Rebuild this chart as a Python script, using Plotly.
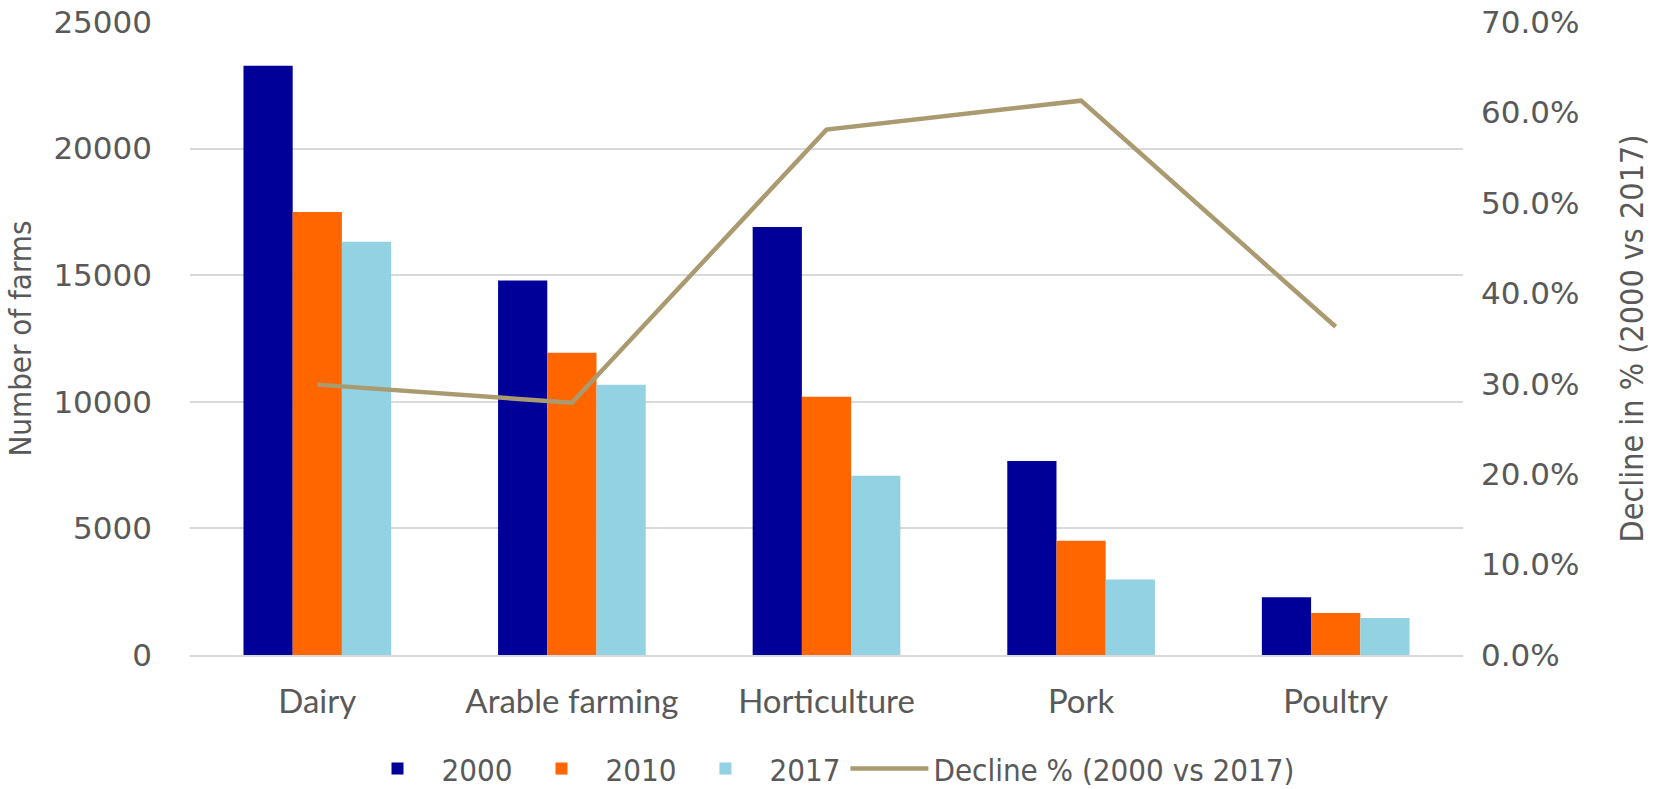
import plotly.graph_objects as go

categories = ["Dairy", "Arable farming", "Horticulture", "Pork", "Poultry"]
farms_2000 = [23270, 14790, 16900, 7660, 2280]
farms_2010 = [17500, 11940, 10200, 4510, 1660]
farms_2017 = [16320, 10670, 7080, 2980, 1460]
decline_pct = [0.299, 0.279, 0.581, 0.613, 0.363]

left_ticks = [0, 5000, 10000, 15000, 20000, 25000]
right_ticks = [0, 0.1, 0.2, 0.3, 0.4, 0.5, 0.6, 0.7]

NUM_FONT = "'DejaVu Sans', sans-serif"
CAT_FONT = "Lato, 'Open Sans', sans-serif"
COND_FONT = "'Liberation Sans Narrow', 'DejaVu Sans Condensed', Lato, sans-serif"
GREY = "#595959"

fig = go.Figure()
fig.add_trace(go.Bar(name="2000", x=categories, y=farms_2000, marker_color="#000099",
                     marker_line_width=0))
fig.add_trace(go.Bar(name="2010", x=categories, y=farms_2010, marker_color="#FF6600",
                     marker_line_width=0))
fig.add_trace(go.Bar(name="2017", x=categories, y=farms_2017, marker_color="#92D2E3",
                     marker_line_width=0))
fig.add_trace(go.Scatter(name="Decline % (2000 vs 2017)", x=categories, y=decline_pct,
                         mode="lines", line=dict(color="#A99B6F", width=4.5),
                         yaxis="y2"))

fig.update_layout(
    width=1657, height=789,
    paper_bgcolor="white", plot_bgcolor="white",
    margin=dict(l=190, r=194, t=22, b=134, autoexpand=False),
    barmode="group", bargap=0.42, bargroupgap=0,
    font=dict(family=CAT_FONT, color=GREY),
    xaxis=dict(
        automargin=False,
        showgrid=False, showline=True, linecolor="#D9D9D9", linewidth=1.5,
        tickfont=dict(family=CAT_FONT, size=33, color=GREY),
        ticks="", ticklabelstandoff=17,
    ),
    yaxis=dict(
        automargin=False, ticklabeloverflow="allow",
        range=[0, 25000], tickvals=left_ticks, ticktext=[str(v) for v in left_ticks],
        showgrid=True, gridcolor="#D9D9D9", gridwidth=1.5, zeroline=False,
        tickfont=dict(family=NUM_FONT, size=31, color=GREY),
        ticklabelstandoff=37,
        title=dict(text="Number of farms", font=dict(family=COND_FONT, size=31, color=GREY),
                   standoff=12),
    ),
    yaxis2=dict(
        automargin=False, ticklabeloverflow="allow",
        range=[0, 0.7], tickvals=right_ticks, tickformat=".1%",
        overlaying="y", side="right", showgrid=False, zeroline=False,
        tickfont=dict(family=NUM_FONT, size=31, color=GREY),
        ticklabelstandoff=17,
        title=dict(text="Decline in % (2000 vs 2017)",
                   font=dict(family=COND_FONT, size=32, color=GREY), standoff=42),
    ),
    legend=dict(orientation="h", x=0.5, xanchor="center", y=-0.18, yanchor="middle",
                font=dict(family=COND_FONT, size=31, color=GREY),
                itemwidth=78, traceorder="normal"),
)

fig.write_html("out.html",
               config={"displayModeBar": False},
               post_script="document.body.style.margin='0';document.documentElement.style.margin='0';")
